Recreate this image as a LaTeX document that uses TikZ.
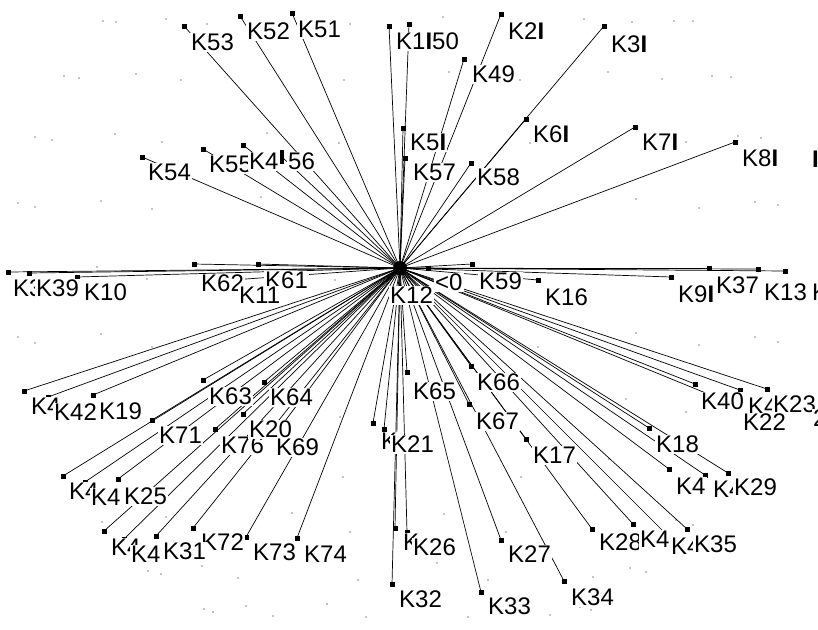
\documentclass[tikz,border=0pt]{standalone}
\usepackage{fontspec}
\newfontfamily\lblfont{Liberation Sans}
\tikzset{
  edge/.style={line width=0.7pt, black},
  mk/.style={rectangle, fill=black, inner sep=0pt, minimum size=5pt},
  lbl/.style={anchor=north west, fill=white, inner sep=1pt, font=\lblfont\fontsize{24}{24}\selectfont},
  dot/.style={fill=black}
}
\newcommand{\bI}{\textbf{I}}
\begin{document}
\begin{tikzpicture}[x=1pt,y=-1pt]
\useasboundingbox[fill=white] (0,0) rectangle (818,629);
% background dots
\foreach \x/\y in {103/21,116/22,166/19,207/24,350/24,64/76,79/78,136/74,181/80,344/80,35/137,52/140,115/134,162/142,267/133,339/143,18/203,35/207,101/201,152/209,261/197,
443/17,584/19,632/22,674/21,693/21,449/72,520/80,608/72,662/79,712/76,731/77,530/143,686/142,738/136,761/138,636/199,699/208,755/202,778/205,
97/267,147/279,335/280,18/337,35/343,101/334,152/347,636/333,699/345,755/337,778/342,343/477,340/417,538/347,626/399,686/412,521/477,609/459,
292/513,350/532,148/571,161/574,202/566,238/578,358/580,204/609,213/612,246/606,273/616,327/604,366/617,102/522,166/517,
444/514,437/563,488/580,506/532,593/577,630/568,646/572,468/617,550/615,580/607,591/610,676/520,693/525}
  \fill[dot] (\x,\y) circle (0.6);
\coordinate (hub) at (400,268);
% leaf positions
\foreach \n/\x/\y in {a53/184/26,a52/240/16,a51/292/13,a1/389/26,a50/409/24,a5x/403/128,a57/405/158,a21/501/14,a49/464/59,a31/604/26,a61/526/119,a71/635/127,a81/735/142,a58/471/163,
a54/142/157,a55/203/149,a4a/243/145,a56/282/157,
b1/8/272,b39/29/273,b10/77/277,b62/194/264,b61/258/264,b11/232/280,
c60/428/268,c59/472/264,c16/538/280,c91/671/277,c37/709/268,c13/758/269,c13b/785/271,
d4a/24/391,d42/48/397,d19/93/395,d63/203/380,d64/264/382,d71/152/420,d20/243/414,d7x/215/429,d69/276/433,
d4b/63/476,d4c/85/482,d25/118/479,d4d/104/531,d4e/124/539,d31/156/536,d72/193/528,d73/246/537,d74/297/538,
e2a/373/423,e21/384/429,e65/407/372,e26a/395/528,e26/407/532,e32/392/584,e33/481/592,e27/501/540,e34/564/581,
f66/471/366,f67/469/404,f17/526/439,f40/695/384,f4x/740/390,f23/767/389,f22/735/405,f18/649/428,f4y/669/469,f4z/705/475,f29/728/473,f28/592/529,f4w/633/524,f4v/664/532,f35/687/529}
  \coordinate (\n) at (\x,\y);
% connectors
\foreach \n in {a53,a52,a51,a1,a50,a5x,a57,a21,a49,a31,a61,a71,a81,a58,a54,a55,a4a,a56,
b1,b39,b10,b62,b61,b11,c60,c59,c16,c91,c37,c13,c13b,
d4a,d42,d19,d63,d64,d71,d20,d7x,d69,d4b,d4c,d25,d4d,d4e,d31,d72,d73,d74,
e2a,e21,e65,e26a,e26,e32,e33,e27,e34,
f66,f67,f17,f40,f4x,f23,f22,f18,f4y,f4z,f29,f28,f4w,f4v,f35}
  \draw[edge] (hub) -- (\n);
% markers
\foreach \n in {a53,a52,a51,a1,a50,a5x,a57,a21,a49,a31,a61,a71,a81,a58,a54,a55,a4a,
b1,b39,b10,b62,b61,b11,c60,c59,c16,c91,c37,c13,c13b,
d4a,d42,d19,d63,d64,d71,d20,d7x,d69,d4b,d4c,d25,d4d,d4e,d31,d72,d73,d74,
e2a,e21,e65,e26a,e26,e32,e33,e27,e34,
f66,f67,f17,f40,f4x,f23,f22,f18,f4y,f4z,f29,f28,f4w,f4v,f35}
  \node[mk] (m\n) at (\n) {};
\node[mk, minimum height=14pt, minimum width=4pt] (ma56) at (a56) {};
\fill (hub) circle (7);
% labels (order matters: later ones cover earlier ones)
\foreach \n/\x/\y/\t in {a53/190/33/K53,a52/246/22/K52,a51/297/20/K51,a1/395/32/K1\bI50,a5x/409/133/K5\bI,a57/412/163/K57,
a21/507/22/K2\bI,a49/471/65/K49,a31/610/35/K3\bI,a61/532/125/K6\bI,a71/641/133/K7\bI,a81/741/149/K8\bI,a58/476/168/K58,
a54/147/163/K54,a55/208/155/K55,a4a/248/152/K4,a56/287/152/56,
b1/12/279/K3,b39/35/279/K39,b10/83/283/K10,b62/200/274/K62,b61/264/271/K61,b11/238/286/K11,
hub/389/286/K12,c60/434/273/<0,c59/478/272/K59,c16/544/288/K16,c91/677/285/K9\bI,c37/715/276/K37,c13/763/283/K13,c13b/811/283/K,
d4a/30/397/K4,d42/53/403/K42,d19/98/402/K19,d63/208/387/K63,d64/269/388/K64,d71/158/426/K71,d7x/220/436/K76,d20/248/420/K20,d69/275/438/K69,
d4b/68/482/K4,d4c/90/488/K4,d25/123/487/K25,d4d/110/538/K4,d4e/130/545/K4,d72/200/533/K72,d31/162/542/K31,d73/252/543/K73,d74/303/545/K74,
e2a/380/432/K,e21/390/435/K21,e65/412/382/K65,e26a/402/533/K,e26/412/538/K26,e32/398/590/K32,e33/487/597/K33,e27/507/545/K27,e34/570/588/K34,
f66/476/373/K66,f67/475/412/K67,f17/532/446/K17,f40/700/392/K40,f4x/747/397/K4,f23/772/395/K23,f23b/812/409/2,f22/742/413/K22,f18/655/435/K18,
f4y/675/477/K4,f4z/712/480/K4,f29/733/478/K29,f28/598/533/K28,f4w/639/530/K4,f4v/670/537/K4,f35/693/535/K35,a81b/811/150/\bI}
  \node[lbl] (t\n) at (\x,\y) {\t};
\end{tikzpicture}
\end{document}
